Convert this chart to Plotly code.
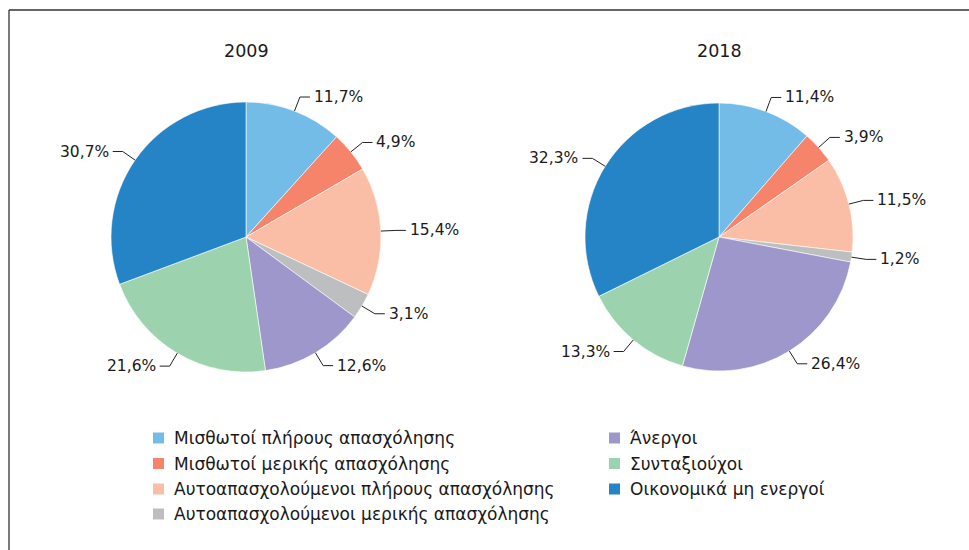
import math
import plotly.graph_objects as go

W, H = 969, 550

categories = [
    "Μισθωτοί πλήρους απασχόλησης",
    "Μισθωτοί μερικής απασχόλησης",
    "Αυτοαπασχολούμενοι πλήρους απασχόλησης",
    "Αυτοαπασχολούμενοι μερικής απασχόλησης",
    "Άνεργοι",
    "Συνταξιούχοι",
    "Οικονομικά μη ενεργοί",
]
values_2009 = [11.7, 4.9, 15.4, 3.1, 12.6, 21.6, 30.7]
values_2018 = [11.4, 3.9, 11.5, 1.2, 26.4, 13.3, 32.3]
years = ["2009", "2018"]
colors = ["#74BCE8", "#F5846A", "#FABDA6", "#BDBEC0", "#9E97CB", "#9CD3AE", "#2484C6"]

FONT = "DejaVu Sans, Liberation Sans, Arial, sans-serif"
TXT = "#1a1a1a"

# pixel layout of the two pies (center x, center y, radius)
pies = [(246, 237, 135), (719, 237, 134)]


def px(x):
    return x / W


def py(y):
    return 1 - y / H


fig = go.Figure()
shapes = []
annotations = []

for (cx, cy, r), vals, yr in zip(pies, [values_2009, values_2018], years):
    fig.add_trace(go.Pie(
        labels=categories, values=vals, sort=False, direction="clockwise",
        rotation=0, textinfo="none", hoverinfo="label+value",
        marker=dict(colors=colors, line=dict(color="white", width=0.6)),
        domain=dict(x=[px(cx - r), px(cx + r)], y=[py(cy + r), py(cy - r)]),
        showlegend=False,
    ))
    annotations.append(dict(
        x=px(cx), y=py(51), xref="paper", yref="paper", text=yr, showarrow=False,
        font=dict(family=FONT, size=17.5, color=TXT), xanchor="center", yanchor="middle",
    ))
    total = sum(vals)
    cum = 0.0
    for v in vals:
        mid = (cum + v / 2) / total * 2 * math.pi
        cum += v
        s, c = math.sin(mid), math.cos(mid)
        x0, y0 = cx + r * s, cy - r * c
        x1, y1 = cx + (r + 15) * s, cy - (r + 15) * c
        d = 1 if s >= 0 else -1
        x2 = x1 + 10 * d
        for (a, b, e, f) in [(x0, y0, x1, y1), (x1, y1, x2, y1)]:
            shapes.append(dict(type="line", xref="paper", yref="paper",
                               x0=px(a), y0=py(b), x1=px(e), y1=py(f),
                               line=dict(color="#222", width=1)))
        label = f"{v:.1f}".replace(".", ",") + "%"
        annotations.append(dict(
            x=px(x2 + 2 * d), y=py(y1), xref="paper", yref="paper", text=label,
            showarrow=False, font=dict(family=FONT, size=15.5, color=TXT),
            xanchor="left" if d > 0 else "right", yanchor="middle",
        ))

# legend (two columns, column-major)
col_x = [153, 609]
row_y = [438, 463.5, 489, 514]
for i, (cat, col) in enumerate(zip(categories, colors)):
    ci, ri = (0, i) if i < 4 else (1, i - 4)
    mx, my = col_x[ci], row_y[ri]
    shapes.append(dict(type="rect", xref="paper", yref="paper",
                       x0=px(mx), x1=px(mx + 11), y0=py(my - 5.5), y1=py(my + 5.5),
                       fillcolor=col, line=dict(width=0)))
    annotations.append(dict(
        x=px(mx + 19), y=py(my), xref="paper", yref="paper", text=cat,
        showarrow=False, font=dict(family=FONT, size=17, color=TXT),
        xanchor="left", yanchor="middle",
    ))

# frame (top and left visible)
shapes.append(dict(type="line", xref="paper", yref="paper", x0=px(9), y0=py(10), x1=px(969), y1=py(10),
                   line=dict(color="#333", width=1.3)))
shapes.append(dict(type="line", xref="paper", yref="paper", x0=px(9), y0=py(10), x1=px(9), y1=py(550),
                   line=dict(color="#333", width=1.3)))

fig.update_layout(
    width=W, height=H, margin=dict(l=0, r=0, t=0, b=0),
    paper_bgcolor="white", plot_bgcolor="white",
    shapes=shapes, annotations=annotations, showlegend=False,
)

fig.write_html("out.html", config={"displayModeBar": False},
               post_script="document.body.style.margin='0';document.body.style.overflow='hidden';")
